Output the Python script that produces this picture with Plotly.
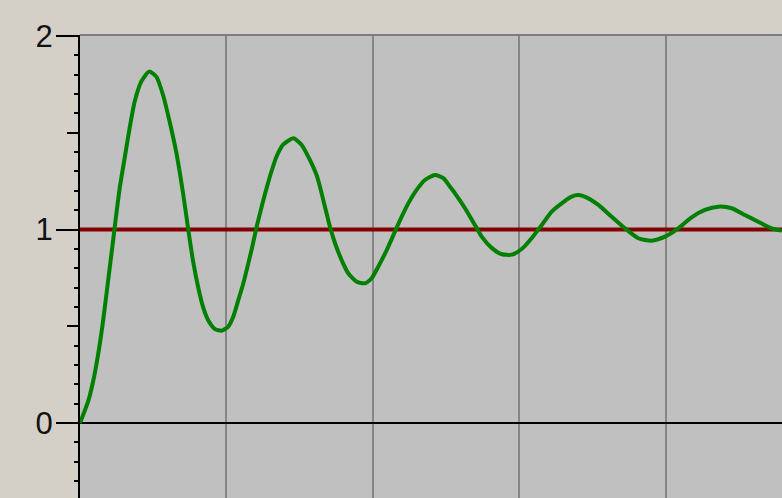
import plotly.graph_objects as go

# Step response of an under-damped second-order system (time, output)
time_s = [0.000, 0.055, 0.089, 0.123, 0.157, 0.191, 0.225, 0.248, 0.271, 0.305,
          0.339, 0.373, 0.418, 0.471, 0.521, 0.567, 0.612, 0.657, 0.703, 0.737,
          0.771, 0.810, 0.842, 0.876, 0.922, 0.967, 1.012, 1.046, 1.081, 1.115,
          1.149, 1.176, 1.206, 1.240, 1.274, 1.309, 1.343, 1.388, 1.456, 1.513,
          1.570, 1.616, 1.638, 1.672, 1.706, 1.741, 1.786, 1.831, 1.889, 1.945,
          1.991, 2.036, 2.094, 2.150, 2.196, 2.241, 2.298, 2.355, 2.423, 2.480,
          2.526, 2.560, 2.628, 2.696, 2.742, 2.810, 2.879, 2.947, 3.015, 3.083,
          3.152, 3.220, 3.288, 3.356, 3.401, 3.470, 3.538, 3.629, 3.720, 3.811,
          3.902, 3.993, 4.084, 4.175, 4.266, 4.357, 4.448, 4.539, 4.630, 4.722,
          4.790]
response = [0.000, 0.110, 0.213, 0.351, 0.524, 0.730, 0.937, 1.080, 1.214, 1.370,
            1.525, 1.660, 1.764, 1.816, 1.790, 1.695, 1.557, 1.400, 1.190, 1.010,
            0.840, 0.690, 0.595, 0.530, 0.485, 0.477, 0.498, 0.549, 0.636, 0.722,
            0.825, 0.911, 1.014, 1.118, 1.215, 1.305, 1.380, 1.440, 1.471, 1.437,
            1.359, 1.280, 1.221, 1.118, 1.014, 0.929, 0.842, 0.774, 0.730, 0.722,
            0.748, 0.808, 0.894, 0.989, 1.066, 1.135, 1.205, 1.256, 1.282, 1.265,
            1.221, 1.187, 1.110, 1.023, 0.963, 0.905, 0.872, 0.870, 0.899, 0.955,
            1.023, 1.092, 1.135, 1.170, 1.178, 1.161, 1.127, 1.066, 1.006, 0.955,
            0.942, 0.963, 1.006, 1.063, 1.101, 1.118, 1.110, 1.075, 1.040, 1.006,
            0.994]

# Setpoint (unit step)
setpoint_t = [0.0, 4.792]
setpoint_y = [1.0, 1.0]

y_major = [0, 1, 2]
y_major_text = ["0", "1", "2"]
y_half = [-0.5, 0.5, 1.5]

x_range = [0.0, 4.792]
y_range = [-0.3876, 2.0052]

fig = go.Figure()

fig.add_trace(go.Scatter(
    x=setpoint_t, y=setpoint_y, mode="lines",
    line=dict(color="#840000", width=4),
    hoverinfo="skip", showlegend=False,
))
fig.add_trace(go.Scatter(
    x=time_s, y=response, mode="lines",
    line=dict(color="#008000", width=4, shape="spline", smoothing=0.6),
    showlegend=False,
))
# invisible trace that carries the half-unit ticks on the secondary axis
fig.add_trace(go.Scatter(
    x=[0], y=[0], yaxis="y2", mode="markers",
    marker=dict(opacity=0), hoverinfo="skip", showlegend=False,
))

fig.update_layout(
    width=782, height=498,
    margin=dict(l=80, r=0, t=35, b=0),
    paper_bgcolor="#d4d0c8",
    plot_bgcolor="#c0c0c0",
    font=dict(family="Liberation Sans, Arial, sans-serif", size=31, color="#111"),
    xaxis=dict(
        range=x_range, dtick=1, tick0=0,
        showgrid=True, gridcolor="#858585", gridwidth=2,
        zeroline=False, showline=False, showticklabels=False, ticks="",
        fixedrange=True,
    ),
    yaxis=dict(
        range=y_range,
        tickmode="array", tickvals=y_major, ticktext=y_major_text,
        ticks="outside", ticklen=22, tickwidth=2, tickcolor="black",
        showline=True, linecolor="black", linewidth=2,
        showgrid=False,
        zeroline=True, zerolinecolor="black", zerolinewidth=2,
        minor=dict(dtick=0.1, tick0=0, ticks="outside", ticklen=4,
                   tickwidth=2, tickcolor="black", showgrid=False),
        ticklabelstandoff=-3,
        fixedrange=True,
    ),
    yaxis2=dict(
        range=y_range, overlaying="y", side="left",
        tickmode="array", tickvals=y_half,
        ticks="outside", ticklen=12, tickwidth=2, tickcolor="black",
        showticklabels=False, showgrid=False, zeroline=False, showline=False,
        fixedrange=True,
    ),
    shapes=[dict(type="line", xref="paper", yref="paper",
                 x0=0, x1=1, y0=1, y1=1,
                 line=dict(color="#7e7e7e", width=2))],
)

fig.write_html("out.html")
